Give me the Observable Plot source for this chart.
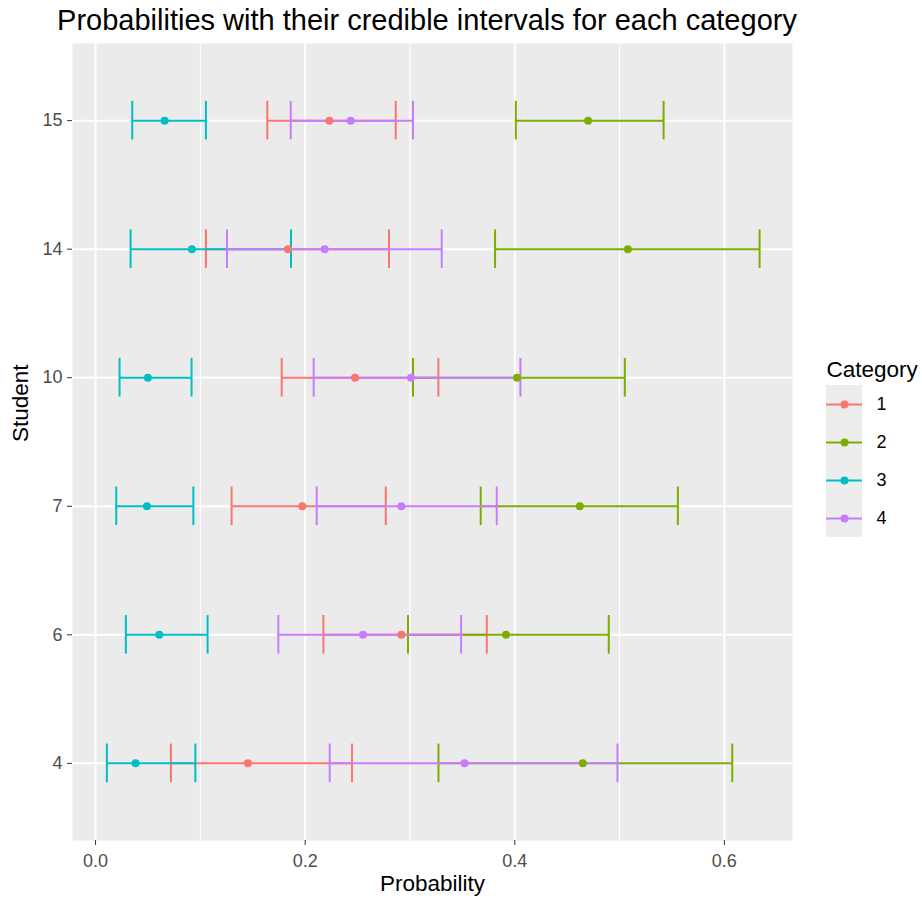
<!DOCTYPE html>
<html>
<head>
<meta charset="utf-8">
<script src="https://cdn.jsdelivr.net/npm/d3@7"></script>
<script src="https://cdn.jsdelivr.net/npm/@observablehq/plot@0.6"></script>
<style>
  html, body { margin: 0; padding: 0; background: #ffffff; }
  #wrap { position: relative; width: 922px; height: 905px; font-family: "Liberation Sans", Arial, sans-serif; background: #fff; }
  #title { position: absolute; left: 0; top: 0; width: 854px; height: 40px; line-height: 40px; text-align: center; font-size: 29px; color: #000; white-space: nowrap; }
  #main { position: absolute; left: 0; top: 40px; }
  #legend { position: absolute; left: 822px; top: 345px; }
</style>
</head>
<body>
<div id="wrap">
  <div id="title">Probabilities with their credible intervals for each category</div>
  <div id="main"></div>
  <div id="legend"></div>
</div>
<script>
// ---- Data ----
const students = ["4", "6", "7", "10", "14", "15"];
const categories = ["1", "2", "3", "4"];
const colors = ["#F8766D", "#7CAE00", "#00BFC4", "#C77CFF"];

// estimates, lower and upper bounds per category, in student order
const cat1Est = [0.1454, 0.2918, 0.1973, 0.2476, 0.1836, 0.2231];
const cat1Lo  = [0.0719, 0.2174, 0.1298, 0.1776, 0.1053, 0.1639];
const cat1Hi  = [0.2447, 0.3733, 0.2769, 0.3271, 0.2800, 0.2864];

const cat2Est = [0.4649, 0.3917, 0.4621, 0.4022, 0.5079, 0.4700];
const cat2Lo  = [0.3272, 0.2981, 0.3675, 0.3029, 0.3812, 0.4010];
const cat2Hi  = [0.6075, 0.4897, 0.5556, 0.5050, 0.6336, 0.5420];

const cat3Est = [0.0382, 0.0608, 0.0490, 0.0499, 0.0919, 0.0659];
const cat3Lo  = [0.0108, 0.0289, 0.0197, 0.0229, 0.0334, 0.0350];
const cat3Hi  = [0.0952, 0.1069, 0.0933, 0.0916, 0.1865, 0.1053];

const cat4Est = [0.3520, 0.2552, 0.2918, 0.3010, 0.2186, 0.2434];
const cat4Lo  = [0.2234, 0.1744, 0.2110, 0.2081, 0.1254, 0.1862];
const cat4Hi  = [0.4980, 0.3488, 0.3828, 0.4054, 0.3303, 0.3029];

const xTicks = [0, 0.2, 0.4, 0.6];
const xMinor = [0.1, 0.3, 0.5];

// ---- Build table ----
const series = [
  [cat1Est, cat1Lo, cat1Hi],
  [cat2Est, cat2Lo, cat2Hi],
  [cat3Est, cat3Lo, cat3Hi],
  [cat4Est, cat4Lo, cat4Hi]
];
const rows = [];
categories.forEach((c, ci) => {
  students.forEach((s, si) => {
    rows.push({cat: c, student: s, idx: si, est: series[ci][0][si], lo: series[ci][1][si], hi: series[ci][2][si]});
  });
});

const font = "'Liberation Sans', Arial, sans-serif";
const capHalf = 0.15;

const barMarks = [];
categories.forEach(c => {
  const d = rows.filter(r => r.cat === c);
  barMarks.push(Plot.ruleY(d, {y: "idx", x1: "lo", x2: "hi", stroke: "cat", strokeWidth: 2}));
  barMarks.push(Plot.ruleX(d, {x: "lo", y1: r => r.idx - capHalf, y2: r => r.idx + capHalf, stroke: "cat", strokeWidth: 2}));
  barMarks.push(Plot.ruleX(d, {x: "hi", y1: r => r.idx - capHalf, y2: r => r.idx + capHalf, stroke: "cat", strokeWidth: 2}));
});

const main = Plot.plot({
  width: 800,
  height: 865,
  marginLeft: 72,
  marginRight: 8,
  marginTop: 3,
  marginBottom: 65,
  style: {fontFamily: font, background: "transparent", overflow: "visible"},
  x: {domain: [-0.022, 0.665]},
  y: {domain: [-0.6, 5.6]},
  color: {domain: categories, range: colors},
  marks: [
    Plot.frame({fill: "#EBEBEB", stroke: null}),
    Plot.gridX({ticks: xMinor, stroke: "white", strokeOpacity: 1, strokeWidth: 1.1}),
    Plot.gridX({ticks: xTicks, stroke: "white", strokeOpacity: 1, strokeWidth: 2}),
    Plot.gridY({ticks: d3.range(students.length), stroke: "white", strokeOpacity: 1, strokeWidth: 2}),
    ...barMarks,
    Plot.dot(rows, {x: "est", y: "idx", fill: "cat", r: 4, stroke: null}),
    Plot.axisX({ticks: xTicks, tickFormat: d3.format(".1f"), tickSize: 5, tickPadding: 9, fontSize: 18, stroke: "#333333", fill: "#4D4D4D", label: null}),
    Plot.axisY({ticks: d3.range(students.length), tickFormat: i => students[i], tickSize: 5, tickPadding: 5, fontSize: 18, stroke: "#333333", fill: "#4D4D4D", label: null}),
    Plot.text(["Probability"], {text: d => d, frameAnchor: "bottom", dy: 50, fontSize: 22.5, fill: "#000"}),
    Plot.text(["Student"], {text: d => d, frameAnchor: "left", rotate: -90, dx: -52, fontSize: 22.5, fill: "#000"})
  ]
});
document.getElementById("main").appendChild(main);

// ---- Legend ----
const legendRows = categories.map((c, i) => ({cat: c, idx: i}));
const legend = Plot.plot({
  width: 100,
  height: 192,
  marginLeft: 4,
  marginRight: 0,
  marginTop: 40,
  marginBottom: 0,
  style: {fontFamily: font, background: "transparent", overflow: "visible"},
  x: {domain: [0, 96], axis: null},
  y: {domain: [3.5, -0.5], axis: null},
  color: {domain: categories, range: colors},
  marks: [
    Plot.rect(legendRows, {x1: () => 0, x2: () => 36, y1: r => r.idx - 0.5, y2: r => r.idx + 0.5, fill: "#EDEDED", stroke: null}),
    Plot.ruleY(legendRows, {y: "idx", x1: () => 0, x2: () => 36, stroke: "cat", strokeWidth: 2}),
    Plot.dot(legendRows, {x: () => 18, y: "idx", fill: "cat", r: 4, stroke: null}),
    Plot.text(legendRows, {x: () => 50, y: "idx", text: "cat", textAnchor: "start", fontSize: 18, fill: "#000"}),
    Plot.text(["Category"], {text: d => d, frameAnchor: "top-left", dy: -24, textAnchor: "start", fontSize: 22.5, fill: "#000"})
  ]
});
document.getElementById("legend").appendChild(legend);
</script>
</body>
</html>
